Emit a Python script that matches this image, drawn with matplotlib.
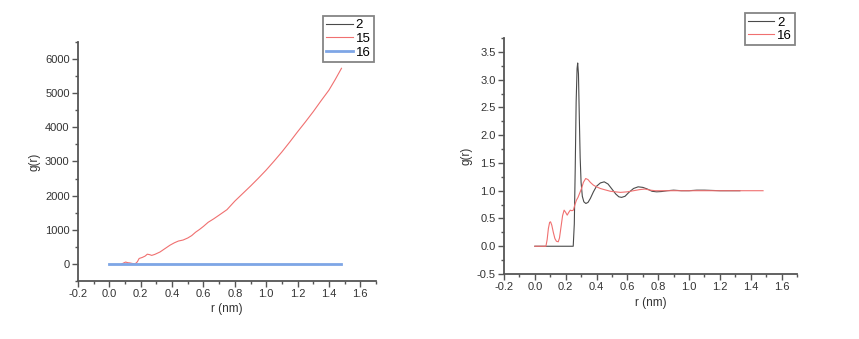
import matplotlib
matplotlib.use("Agg")
import matplotlib.pyplot as plt
from matplotlib.ticker import MultipleLocator, AutoMinorLocator

plt.rcParams['font.family'] = ['Liberation Sans', 'DejaVu Sans']
plt.rcParams['axes.unicode_minus'] = False

# left panel: series "15" (red) and "16" (blue, flat at 0)
r15 = [0.079, 0.092, 0.104, 0.118, 0.13, 0.145, 0.164, 0.178, 0.19, 0.21, 0.228, 0.242,
       0.258, 0.27, 0.29, 0.323, 0.355, 0.387, 0.415, 0.44, 0.47, 0.5, 0.525, 0.55,
       0.575, 0.6, 0.63, 0.665, 0.7, 0.75, 0.8, 0.85, 0.9, 0.95, 1.0, 1.05, 1.1, 1.15,
       1.2, 1.25, 1.3, 1.35, 1.4, 1.44, 1.48]
g15 = [0, 30, 55, 35, 30, 15, 0, 60, 160, 190, 230, 285,
       270, 250, 280, 350, 450, 550, 620, 670, 700, 760, 830, 930,
       1010, 1100, 1220, 1320, 1430, 1590, 1840, 2060, 2280, 2510, 2750, 3010, 3280, 3570,
       3870, 4160, 4460, 4780, 5090, 5400, 5730]
r16_left = [0.0, 1.48]
g16_left = [0, 0]

# right panel: series "2" (black) and "16" (red)
r2 = [0.0, 0.249, 0.256, 0.262, 0.268, 0.274, 0.278, 0.283, 0.288, 0.294, 0.3, 0.308,
      0.318, 0.331, 0.345, 0.36, 0.38, 0.4, 0.425, 0.45, 0.475, 0.5, 0.525, 0.545,
      0.563, 0.585, 0.61, 0.64, 0.67, 0.7, 0.73, 0.76, 0.79, 0.82, 0.86, 0.9, 0.95,
      1.0, 1.05, 1.1, 1.2, 1.33]
g2 = [0, 0, 0.4, 1.4, 2.6, 3.2, 3.30, 3.1, 2.4, 1.6, 1.15, 0.9,
      0.8, 0.77, 0.79, 0.86, 0.98, 1.08, 1.14, 1.16, 1.12, 1.03, 0.94, 0.89,
      0.88, 0.9, 0.97, 1.04, 1.07, 1.06, 1.03, 0.99, 0.98, 0.985, 1.0, 1.01, 1.0,
      1.0, 1.01, 1.01, 1.0, 1.0]
r16 = [0.0, 0.072, 0.08, 0.088, 0.096, 0.102, 0.11, 0.12, 0.13, 0.14, 0.152, 0.16,
       0.17, 0.18, 0.19, 0.2, 0.21, 0.22, 0.23, 0.24, 0.25, 0.26, 0.27, 0.28,
       0.29, 0.303, 0.315, 0.33, 0.345, 0.36, 0.38, 0.4, 0.425, 0.45, 0.49, 0.555,
       0.6, 0.64, 0.68, 0.714, 0.75, 0.78, 0.9, 1.1, 1.3, 1.48]
g16 = [0, 0, 0.12, 0.32, 0.43, 0.44, 0.38, 0.25, 0.14, 0.09, 0.08, 0.15,
       0.35, 0.55, 0.65, 0.61, 0.56, 0.61, 0.65, 0.64, 0.65, 0.75, 0.83, 0.88,
       0.95, 1.04, 1.15, 1.22, 1.2, 1.15, 1.1, 1.07, 1.04, 1.02, 0.99, 0.97,
       0.98, 1.0, 1.02, 1.03, 1.01, 1.0, 1.0, 1.0, 1.0, 1.0]

black = '#4a4a4a'
red = '#f07070'
blue = '#7ea6e6'
spine = '#555555'
txt = '#333333'

fig = plt.figure(figsize=(8.59, 3.39), dpi=100)
ax1 = fig.add_axes([0.0908, 0.1711, 0.3469, 0.7050])
ax2 = fig.add_axes([0.5867, 0.1917, 0.3411, 0.6962])


def style(ax):
    for s in ['top', 'right']:
        ax.spines[s].set_visible(False)
    for s in ['left', 'bottom']:
        ax.spines[s].set_color(spine)
        ax.spines[s].set_linewidth(1.3)
    ax.tick_params(which='major', direction='out', length=4, width=1, color=spine,
                   labelsize=8, labelcolor=txt, pad=2)
    ax.tick_params(which='minor', direction='out', length=2, width=1, color=spine)
    ax.xaxis.set_major_locator(MultipleLocator(0.2))
    ax.xaxis.set_minor_locator(AutoMinorLocator(2))
    ax.yaxis.set_minor_locator(AutoMinorLocator(2))
    ax.set_xlim(-0.2, 1.7)
    ax.set_xlabel('r (nm)', fontsize=8.5, color=txt, labelpad=3)
    ax.set_ylabel('g(r)', fontsize=8.5, color=txt, labelpad=3)


def legend(ax, anchor):
    leg = ax.legend(loc='upper right', bbox_to_anchor=anchor,
                    bbox_transform=fig.transFigure, fontsize=9.5, frameon=True,
                    fancybox=False, edgecolor='#666666', handlelength=2.0,
                    handletextpad=0.2, borderpad=0.25, labelspacing=0.1,
                    borderaxespad=0)
    leg.get_frame().set_linewidth(1.3)


ax1.plot(r2, [v * 0 for v in g2], color=black, lw=0.8, label='2')
ax1.plot(r15, g15, color=red, lw=0.8, label='15')
ax1.plot(r16_left, g16_left, color=blue, lw=2, label='16')
style(ax1)
ax1.set_ylim(-500, 6500)
ax1.yaxis.set_major_locator(MultipleLocator(1000))
legend(ax1, (0.435, 0.953))

ax2.plot(r2, g2, color=black, lw=0.8, label='2')
ax2.plot(r16, g16, color=red, lw=0.8, label='16')
style(ax2)
ax2.set_ylim(-0.5, 3.75)
ax2.yaxis.set_major_locator(MultipleLocator(0.5))
legend(ax2, (0.9255, 0.9617))

fig.savefig('out.png', dpi=100)
